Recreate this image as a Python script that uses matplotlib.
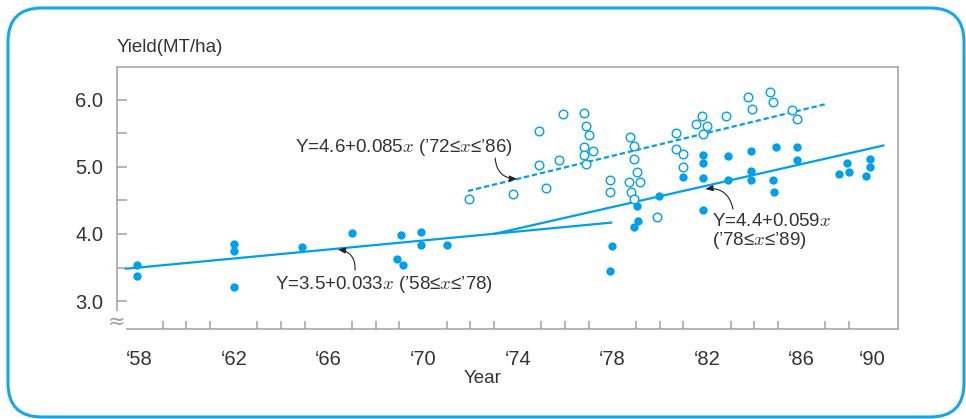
import matplotlib.pyplot as plt
import numpy as np
from matplotlib.patches import FancyBboxPatch

plt.rcParams['font.family'] = ['Liberation Sans', 'DejaVu Sans']
plt.rcParams['mathtext.fontset'] = 'cm'

# filled dots (year, yield)
fill_x = [57.9, 57.9, 62.0, 62.0, 62.0, 64.9, 67.0, 68.9, 69.05, 69.15, 69.9, 69.9,
          71.0, 78.0, 77.9, 78.9, 79.04, 79.1, 79.96, 81.0, 81.85, 81.85, 81.85, 81.85,
          82.9, 82.9, 83.85, 83.85, 83.85, 84.9, 84.8, 84.85, 85.8, 85.8,
          87.6, 87.9, 88.0, 88.7, 88.9, 88.9]
fill_y = [3.54, 3.38, 3.85, 3.74, 3.21, 3.80, 4.02, 3.63, 3.98, 3.54, 4.03, 3.83,
          3.83, 3.82, 3.45, 4.11, 4.41, 4.19, 4.56, 4.85, 5.18, 5.05, 4.84, 4.36,
          5.16, 4.80, 5.24, 4.94, 4.80, 5.29, 4.81, 4.62, 5.30, 5.10,
          4.89, 5.05, 4.92, 4.87, 5.12, 4.99]

# open circles
open_x = [71.95, 73.8, 74.9, 74.9, 75.2, 75.75, 75.9, 76.8, 76.8, 76.8, 76.9, 76.9,
          77.0, 77.2, 77.9, 77.9, 78.7, 78.76, 78.8, 78.9, 78.9, 78.9, 79.04, 79.15,
          79.9, 80.7, 80.7, 81.0, 81.0, 81.55, 81.8, 81.84, 82.0, 82.8,
          83.75, 83.9, 84.65, 84.8, 85.6, 85.8]
open_y = [4.52, 4.60, 5.02, 5.54, 4.68, 5.10, 5.78, 5.80, 5.29, 5.18, 5.61, 5.04,
          5.47, 5.24, 4.81, 4.62, 4.77, 5.44, 4.63, 5.31, 5.11, 4.52, 4.92, 4.78,
          4.25, 5.50, 5.27, 5.19, 5.00, 5.64, 5.75, 5.49, 5.61, 5.76,
          6.04, 5.86, 6.11, 5.97, 5.84, 5.71]

# fitted lines as drawn (end points)
fit1_x = [57.4, 78.0]
fit1_y = [3.48, 4.17]
fit2_x = [73.0, 89.5]
fit2_y = [4.00, 5.32]
fit3_x = [71.9, 87.1]
fit3_y = [4.64, 5.94]

tick_pos = [58, 62, 66, 70, 74, 78, 82, 86, 89]
tick_lab = ['\u201858', '\u201862', '\u201866', '\u201870', '\u201874',
            '\u201878', '\u201882', '\u201886', '\u201890']

blue = '#00a0e9'
grey = '#a0a0a0'
txt = '#333333'

fig = plt.figure(figsize=(9.66, 4.19), dpi=100)
ax = fig.add_axes([117/966, 1 - 329.3/419, (897.7 - 117)/966, (329.3 - 66.7)/419])

ax.plot(fit1_x, fit1_y, color=blue, lw=1.6, solid_capstyle='butt')
ax.plot(fit2_x, fit2_y, color=blue, lw=1.6, solid_capstyle='butt')
ax.plot(fit3_x, fit3_y, color=blue, lw=1.6, dashes=(2.4, 1.3))

ax.plot(fill_x, fill_y, 'o', color=blue, ms=6.0, mec='none')
ax.plot(open_x, open_y, 'o', mfc='white', mec=blue, mew=1.0, ms=6.2)

ax.set_xlim(57.07, 90.06)
ax.set_ylim(2.58, 6.49)

ax.set_xticks(tick_pos)
ax.set_xticklabels(tick_lab)
ax.set_xticks(np.arange(58, 90), minor=True)
ax.set_yticks([3, 4, 5, 6])
ax.set_yticklabels(['3.0', '4.0', '5.0', '6.0'])
ax.set_yticks(np.arange(3, 6.5, 0.5), minor=True)

ax.tick_params(which='both', direction='in', color=grey, width=1.1)
ax.tick_params(axis='x', which='major', length=0, pad=15, labelsize=14.5, labelcolor=txt)
ax.tick_params(axis='x', which='minor', length=6)
ax.tick_params(axis='y', which='both', length=7, pad=10, labelsize=14.5, labelcolor=txt)
for s in ax.spines.values():
    s.set_color(grey)
    s.set_linewidth(1.1)

ax.text(0, 1.04, 'Yield(MT/ha)', transform=ax.transAxes, fontsize=13.5,
        color=txt, va='bottom', ha='left')
ax.text(72.5, 1.84, 'Year', fontsize=13.5, color=txt, ha='center', va='center')

# axis break mark
ax.text(0, 0.03, '\u2248', transform=ax.transAxes, fontsize=15, color=grey,
        ha='center', va='center', rotation=0, clip_on=False,
        family='DejaVu Sans',
        bbox=dict(boxstyle='square,pad=0', fc='white', ec='none'))

arr = dict(arrowstyle='-|>,head_length=0.45,head_width=0.18', color='#222222', lw=0.8,
           shrinkA=0, shrinkB=0)
ax.annotate('Y=4.6+0.085$x$ (\u201972\u2264$x$\u2264\u201986)', xy=(73.98, 4.82),
            xytext=(64.6, 5.28), fontsize=13.5, color=txt, va='center', ha='left')
ax.annotate('', xy=(73.98, 4.82), xytext=(73.05, 5.13),
            arrowprops=dict(connectionstyle='arc3,rad=0.45', **arr))

ax.annotate('Y=3.5+0.033$x$ (\u201958\u2264$x$\u2264\u201978)', xy=(66.4, 3.77),
            xytext=(63.75, 3.24), fontsize=13.5, color=txt, va='center', ha='left')
ax.annotate('', xy=(66.4, 3.77), xytext=(67.13, 3.46),
            arrowprops=dict(connectionstyle='arc3,rad=0.45', **arr))

ax.text(82.2, 4.19, 'Y=4.4+0.059$x$', fontsize=13.5, color=txt, va='center', ha='left')
ax.text(82.2, 3.90, '(\u201978\u2264$x$\u2264\u201989)', fontsize=13.5, color=txt,
        va='center', ha='left')
ax.annotate('', xy=(81.93, 4.67), xytext=(83.1, 4.37),
            arrowprops=dict(connectionstyle='arc3,rad=0.45', **arr))

# rounded frame around the figure
frame = FancyBboxPatch((8/966, 1 - 417/419), 956/966, 409/419,
                       boxstyle='round,pad=0,rounding_size=0.035',
                       transform=fig.transFigure, fc='none', ec='#14a8e6', lw=2.2,
                       mutation_aspect=966/419)
fig.patches.append(frame)

fig.savefig('out.png', dpi=100)
